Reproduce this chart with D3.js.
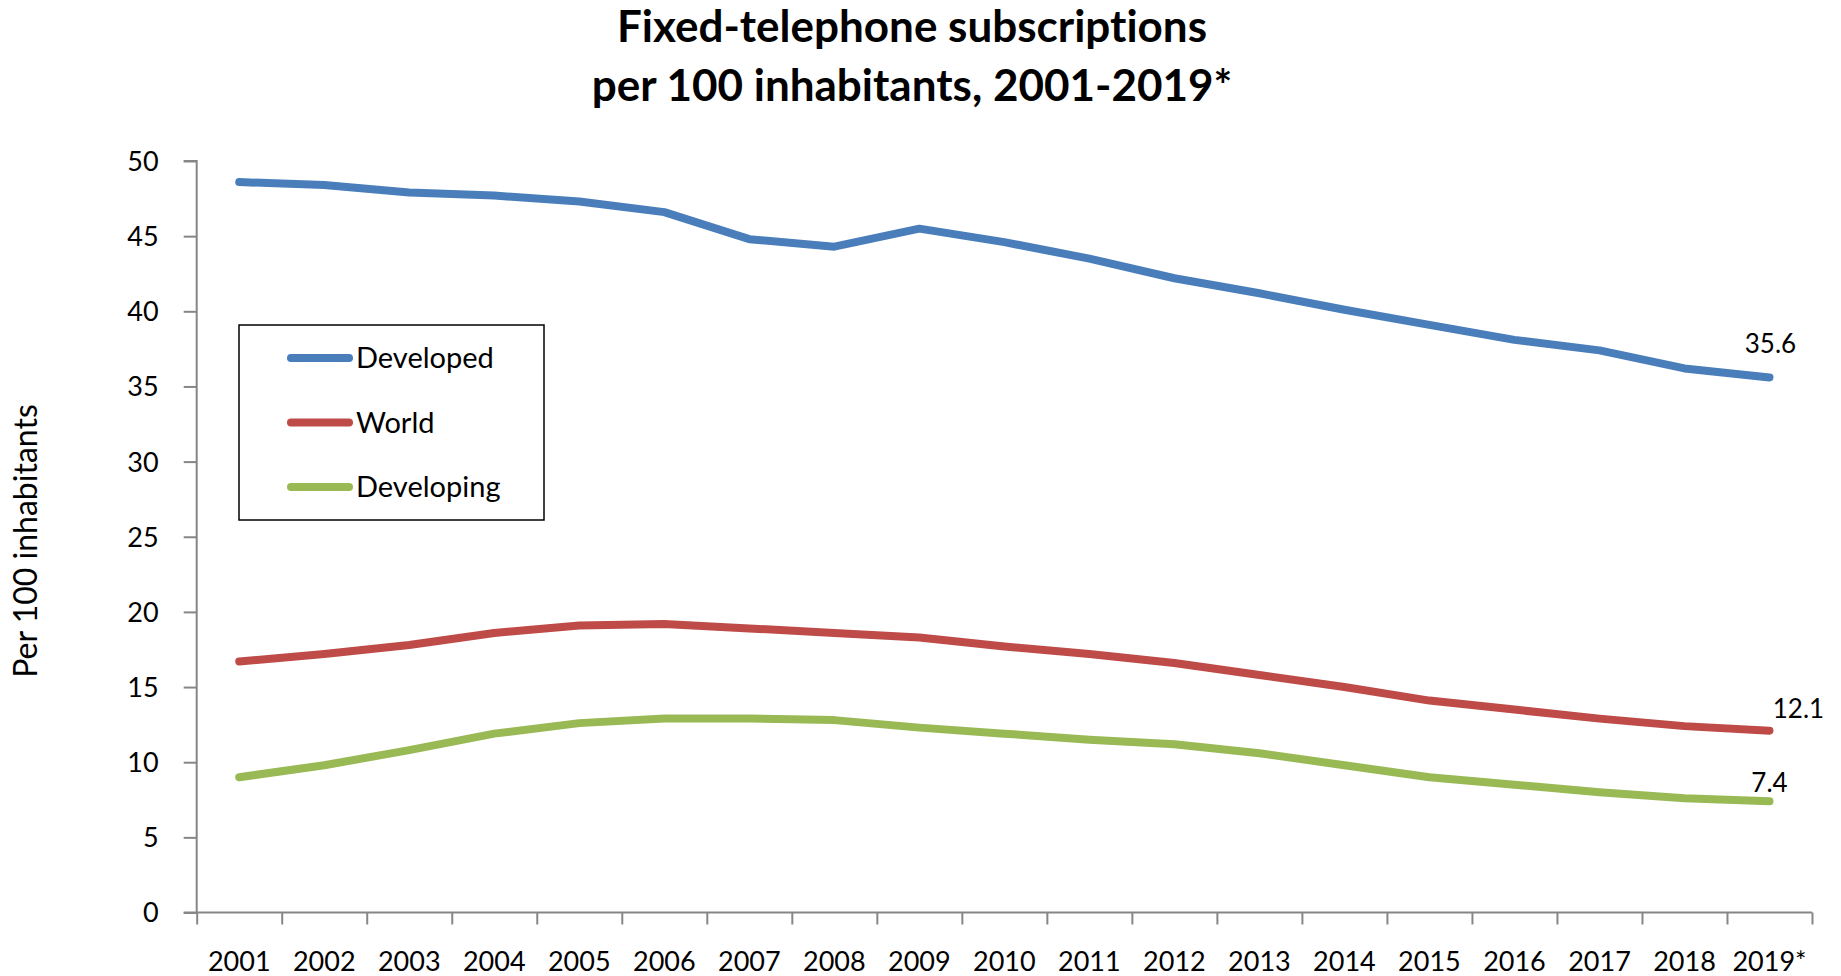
<!DOCTYPE html>
<html>
<head>
<meta charset="utf-8">
<script src="https://cdn.jsdelivr.net/npm/d3@7"></script>
<style>
  html, body { margin: 0; padding: 0; background: #ffffff; }
  svg { display: block; }
  text { font-family: Lato, "Open Sans", sans-serif; fill: #000; font-variant-ligatures: none; }
</style>
</head>
<body>
<svg id="chart" width="1841" height="976"></svg>
<script>
const years = ["2001","2002","2003","2004","2005","2006","2007","2008","2009","2010",
               "2011","2012","2013","2014","2015","2016","2017","2018","2019*"];
const developed = [48.6,48.4,47.9,47.7,47.3,46.6,44.8,44.3,45.5,44.6,43.5,42.2,41.2,40.1,39.1,38.1,37.4,36.2,35.6];
const world     = [16.7,17.2,17.8,18.6,19.1,19.2,18.9,18.6,18.3,17.7,17.2,16.6,15.8,15.0,14.1,13.5,12.9,12.4,12.1];
const developing= [9.0,9.8,10.8,11.9,12.6,12.9,12.9,12.8,12.3,11.9,11.5,11.2,10.6,9.8,9.0,8.5,8.0,7.6,7.4];
const seriesNames = ["Developed","World","Developing"];
const seriesColors = ["#4A7EBB","#BE4B48","#98B954"];
const yTicks = [0,5,10,15,20,25,30,35,40,45,50];
const endLabels = ["35.6","12.1","7.4"];
const titleLines = ["Fixed-telephone subscriptions","per 100 inhabitants, 2001-2019*"];
const yTitle = "Per 100 inhabitants";

const svg = d3.select("#chart");
const pLeft = 196.7, pRight = 1812, pTop = 161, pBottom = 912.5;

const x = d3.scaleBand().domain(years).range([pLeft, pRight]).padding(0);
const xIdx = d3.scaleLinear().domain([0, years.length]).range([pLeft, pRight]);
const y = d3.scaleLinear().domain([0, 50]).range([pBottom, pTop]);

// Title
svg.selectAll("text.title").data(titleLines).join("text")
  .attr("class","title")
  .attr("x", 912).attr("y", (d,i) => 42 + i*59)
  .attr("text-anchor","middle")
  .style("font-weight","700").style("font-size","44px")
  .text(d => d);

// Y axis
const yAxis = svg.append("g").attr("transform", `translate(${pLeft},0)`)
  .call(d3.axisLeft(y).tickValues(yTicks).tickSize(13).tickPadding(25).tickFormat(d3.format("d")));
yAxis.select(".domain").attr("stroke","#868686").attr("stroke-width",2).attr("d", `M-13,${pTop}H0V${pBottom}`);
yAxis.selectAll(".tick line").attr("stroke","#868686").attr("stroke-width",2);
yAxis.selectAll(".tick text").style("font-size","27px").style("font-family","Lato, sans-serif").attr("dy","0.35em");

// X axis boundary ticks
const xAxis = svg.append("g").attr("transform", `translate(0,${pBottom})`)
  .call(d3.axisBottom(xIdx).tickValues(d3.range(years.length+1)).tickSize(12).tickFormat(""));
xAxis.select(".domain").attr("stroke","#868686").attr("stroke-width",2).attr("d", `M${pLeft-13},0H${pRight}`);
xAxis.selectAll(".tick line").attr("stroke","#868686").attr("stroke-width",2);

// X labels
const xLab = svg.append("g").attr("transform", `translate(0,${pBottom})`)
  .call(d3.axisBottom(x).tickSize(0).tickPadding(39));
xLab.select(".domain").remove();
xLab.selectAll(".tick text").style("font-size","27px").style("font-family","Lato, sans-serif");

// Y title
svg.append("text")
  .attr("transform","translate(37,541) rotate(-90)")
  .attr("text-anchor","middle")
  .style("font-size","32px")
  .text(yTitle);

// Lines
const seriesData = [developed, world, developing];
const line = d3.line().x((d,i) => x(years[i]) + x.bandwidth()/2).y(d => y(d));
svg.selectAll("path.series").data(seriesData).join("path")
  .attr("class","series")
  .attr("fill","none")
  .attr("stroke",(d,i) => seriesColors[i])
  .attr("stroke-width",8)
  .attr("stroke-linejoin","round")
  .attr("stroke-linecap","round")
  .attr("d", line);

// End labels
const labOff = [[1,-24],[29,-13],[0,-9]];
svg.selectAll("text.endlab").data(seriesData).join("text")
  .attr("class","endlab")
  .attr("x",(d,i) => x(years[years.length-1]) + x.bandwidth()/2 + labOff[i][0])
  .attr("y",(d,i) => y(d[d.length-1]) + labOff[i][1])
  .attr("text-anchor","middle")
  .style("font-size","26px")
  .text((d,i) => endLabels[i]);

// Legend
const lg = svg.append("g");
lg.append("rect").attr("x",239).attr("y",325).attr("width",305).attr("height",195)
  .attr("fill","#fff").attr("stroke","#000").attr("stroke-width",1.5);
const rows = lg.selectAll("g.row").data(seriesNames).join("g")
  .attr("class","row")
  .attr("transform",(d,i) => `translate(0,${358 + i*64.5})`);
rows.append("line").attr("x1",291).attr("x2",349).attr("y1",0).attr("y2",0)
  .attr("stroke",(d,i) => seriesColors[i]).attr("stroke-width",8).attr("stroke-linecap","round");
rows.append("text").attr("x",356).attr("y",0).attr("dy","0.35em")
  .style("font-size","29px").text(d => d);
</script>
</body>
</html>
